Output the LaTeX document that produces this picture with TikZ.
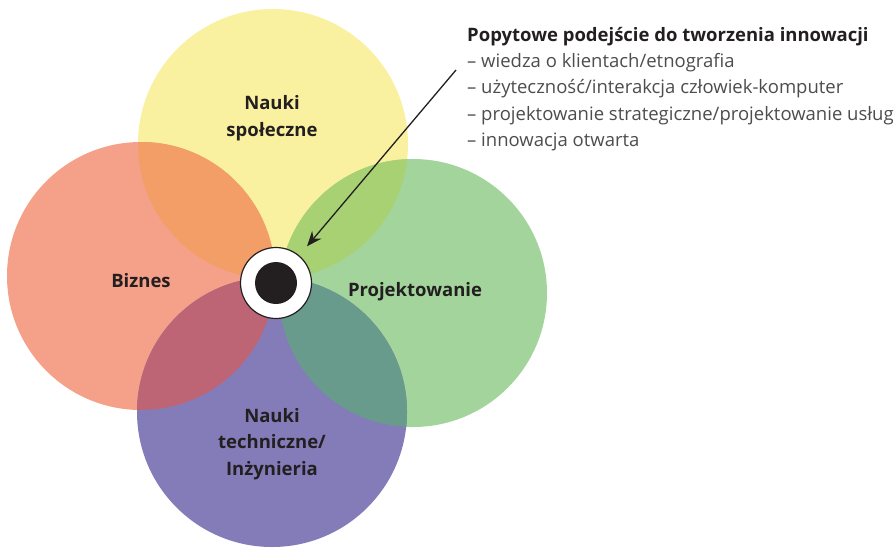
\documentclass[tikz,border=0pt]{standalone}
\usepackage{fontspec}
\setmainfont{Open Sans}
\usetikzlibrary{arrows.meta}

\definecolor{spolYellow}{HTML}{F9F1A0}
\definecolor{biznSalmon}{HTML}{F5A088}
\definecolor{projGreen}{HTML}{A3D49C}
\definecolor{technPurple}{HTML}{837CB9}
\definecolor{spolBizn}{HTML}{F29E66}
\definecolor{spolProj}{HTML}{A8D174}
\definecolor{biznTechn}{HTML}{BE6575}
\definecolor{projTechn}{HTML}{689B8C}
\definecolor{labelInk}{HTML}{231F20}
\definecolor{listInk}{HTML}{4D4D4F}

\begin{document}
\begin{tikzpicture}[x=1pt, y=-1pt,
    fieldlabel/.style={font=\bfseries\fontsize{18.5}{26.5}\selectfont, text=labelInk, align=center},
    listtext/.style={font=\fontsize{18.5}{26.3}\selectfont, text=listInk, align=left, anchor=north west, inner sep=0pt}]
			%%%%% START %%%%%
			\useasboundingbox (0, 0) rectangle (896, 547);

			% the four fields
			\fill[spolYellow] (273, 144) circle (135);
			\fill[biznSalmon] (141, 276) circle (134);
			\fill[projGreen] (413, 293) circle (134);
			\fill[technPurple] (272, 412) circle (135);

			% overlaps
			\begin{scope}
				\clip (273, 144) circle (135);
				\fill[spolBizn] (141, 276) circle (134);
				\fill[spolProj] (413, 293) circle (134);
			\end{scope}
			\begin{scope}
				\clip (272, 412) circle (135);
				\fill[biznTechn] (141, 276) circle (134);
				\fill[projTechn] (413, 293) circle (134);
			\end{scope}

			\node[fieldlabel] (spol) at (272, 118) {Nauki\\społeczne};
			\node[fieldlabel] (bizn) at (141, 281) {Biznes};
			\node[fieldlabel] (proj) at (415, 292) {Projektowanie};
			\node[fieldlabel] (techn) at (272, 444) {Nauki\\techniczne/\\Inżynieria};

			% centre
			\node[circle, draw=labelInk, line width=1.2pt, fill=white, minimum size=71pt, inner sep=0pt] (hub) at (276, 283) {};
			\node[circle, fill=labelInk, minimum size=42pt, inner sep=0pt] (hubdot) at (hub.center) {};

			% demand driven approach
			\node[listtext] (popyt) at (467, 27) {{\bfseries\color{labelInk}Popytowe podejście do tworzenia innowacji}\\
				– wiedza o klientach/etnografia\\
				– użyteczność/interakcja człowiek-komputer\\
				– projektowanie strategiczne/projektowanie usług\\
				– innowacja otwarta};

			\coordinate (arrfrom) at (456, 70);
			\draw[line width=1.3pt, labelInk, -{Stealth[length=15pt, width=12pt]}, shorten >=12pt] (arrfrom) -- (hub);
			%%%%% END %%%%%
		\end{tikzpicture}
\end{document}
